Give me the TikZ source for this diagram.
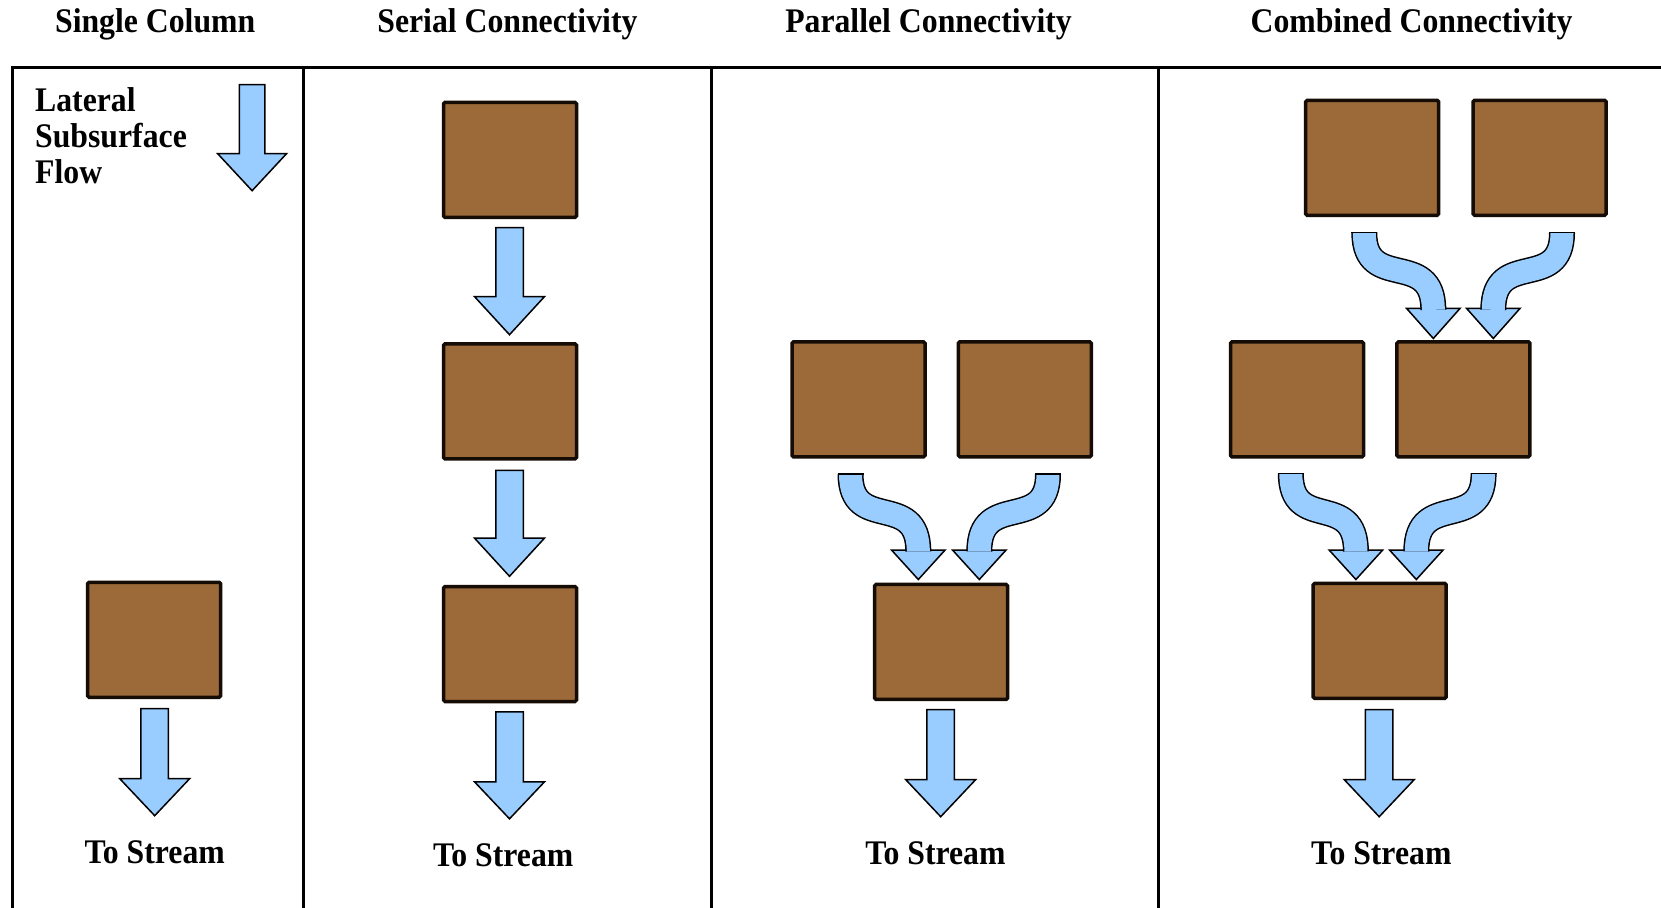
\documentclass[tikz,border=0pt]{standalone}
\usepackage{fontspec}
\setmainfont{Liberation Serif}
\usetikzlibrary{calc}
\definecolor{soil}{RGB}{155,106,56}
\definecolor{soilline}{RGB}{22,12,6}
\definecolor{flowblue}{RGB}{153,204,255}
\newcommand\sq[1]{\scalebox{0.92}[1]{#1}}
\tikzset{
  soilbox/.style={rectangle, draw=soilline, fill=soil, line width=3.5pt, rounded corners=1.5pt,
    minimum width=133pt, minimum height=115pt, inner sep=0pt},
  flowline/.style={draw=black, fill=flowblue, line width=1.5pt, line join=miter},
  frameline/.style={draw=black, line width=3pt},
  label/.style={font=\fontsize{34.5}{36}\selectfont\bfseries, inner sep=0pt}
}
% straight fat arrow: cx, top, base, tip, shaft half, head half
\newcommand\fatarrow[6]{%
  \filldraw[flowline] ({#1-#5},#2) -- ({#1+#5},#2) -- ({#1+#5},#3) -- ({#1+#6},#3)
    -- (#1,#4) -- ({#1-#6},#3) -- ({#1-#5},#3) -- cycle;}
% curved fat arrow: x0, y0, x1, base, tip
\newcommand\bendarrow[5]{%
  \filldraw[flowline] ({#3-26.8},#4) -- (#3,#5) -- ({#3+26.8},#4) -- cycle;
  \draw[line width=1.5pt, draw=black, double=flowblue, double distance=23pt]
    (#1,#2) .. controls (#1,{#2+60}) and (#3,{#4-60}) .. (#3,{#4+1.5});
  \draw[line width=1.5pt] ({#1-13},#2) -- ({#1+13},#2);}
\begin{document}
\begin{tikzpicture}[x=1pt,y=-1pt]
\useasboundingbox (0,0) rectangle (1661,907);
\fill[white] (0,0) rectangle (1661,907);
% frame
\draw[frameline] (12.7,910) -- (12.7,67.8) -- (1665,67.8);
\draw[frameline] (303,67.8) -- (303,910);
\draw[frameline] (711,67.8) -- (711,910);
\draw[frameline] (1158,67.8) -- (1158,910);
% titles
\node[label, anchor=base] (t1) at (155.2,33) {\sq{Single Column}};
\node[label, anchor=base] (t2) at (507.4,33) {\sq{Serial Connectivity}};
\node[label, anchor=base] (t3) at (928.5,33) {\sq{Parallel Connectivity}};
\node[label, anchor=base] (t4) at (1411.5,33) {\sq{Combined Connectivity}};
% lateral label
\node[label, anchor=north west, align=left] (lat) at (35,87.5)
  {\sq{Lateral}\\\sq{Subsurface}\\\sq{Flow}};
\fatarrow{252.1}{84.7}{153.6}{190.7}{12.7}{34.5}
% single column
\node[soilbox] (sc) at (154.1,639.8) {};
\fatarrow{154.7}{708.7}{778.6}{815.7}{13.75}{35}
\node[label, anchor=base] (s1) at (154.7,863) {\sq{To Stream}};
% serial
\node[soilbox] (se1) at (510,159.9) {};
\node[soilbox] (se2) at (510,401.4) {};
\node[soilbox] (se3) at (510,644) {};
\fatarrow{509.5}{227.7}{296.6}{334.7}{13.75}{35}
\fatarrow{509.5}{470.3}{538.1}{576.3}{13.75}{35}
\fatarrow{509.5}{711.8}{781.8}{818.8}{13.75}{35}
\node[label, anchor=base] (s2) at (503.2,866.6) {\sq{To Stream}};
% parallel
\node[soilbox] (pa1) at (858.5,399.3) {};
\node[soilbox] (pa2) at (1024.8,399.3) {};
\node[soilbox] (pa3) at (941.1,641.9) {};
\bendarrow{850.5}{474}{918.3}{550}{579.5}
\bendarrow{1048}{474}{979.3}{550}{579.5}
\fatarrow{940.7}{709.7}{779.6}{816.7}{13.75}{35}
\node[label, anchor=base] (s3) at (935.4,864.5) {\sq{To Stream}};
% combined
\node[soilbox] (co1) at (1372.2,157.8) {};
\node[soilbox] (co2) at (1539.6,157.8) {};
\node[soilbox] (co3) at (1297,399.3) {};
\node[soilbox] (co4) at (1463.4,399.3) {};
\node[soilbox] (co5) at (1379.7,640.8) {};
\bendarrow{1364.3}{232.7}{1433.3}{308.3}{338.5}
\bendarrow{1562}{232.7}{1493.3}{308.3}{338.5}
\bendarrow{1290.8}{473.5}{1355.9}{550}{579.5}
\bendarrow{1483.6}{473.5}{1416.3}{550}{579.5}
\fatarrow{1379.2}{709.7}{779.6}{816.7}{13.75}{35}
\node[label, anchor=base] (s4) at (1381.3,864.5) {\sq{To Stream}};
\end{tikzpicture}
\end{document}
